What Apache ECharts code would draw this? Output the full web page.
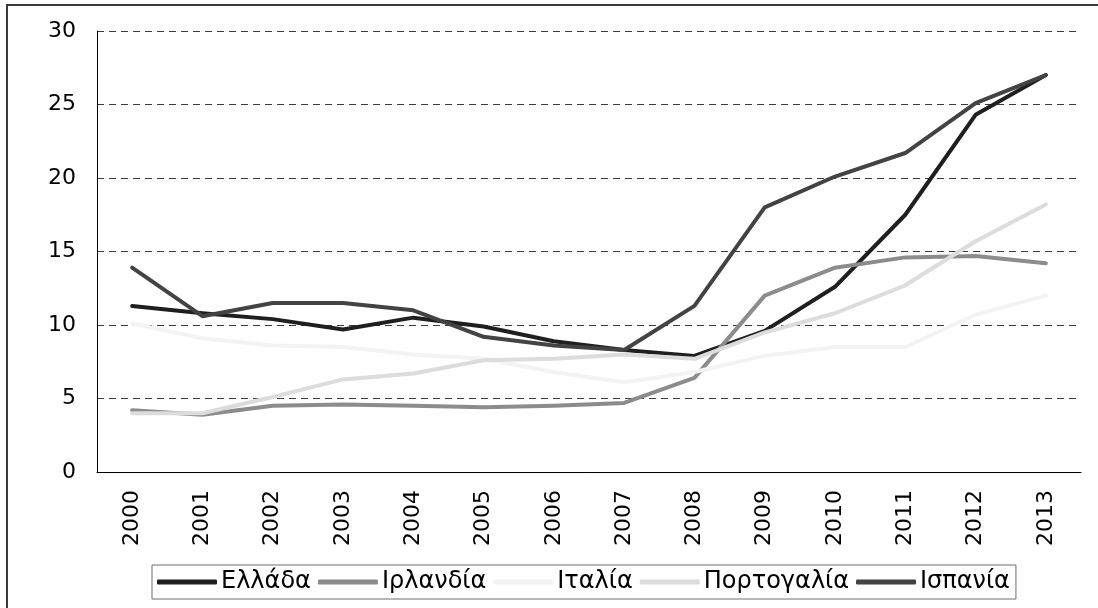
<!DOCTYPE html>
<html>
<head>
<meta charset="utf-8">
<script src="https://cdn.jsdelivr.net/npm/echarts@6/dist/echarts.min.js"></script>
<style>
  html, body { margin: 0; padding: 0; background: #fff; }
  #chart { width: 1098px; height: 608px; }
</style>
</head>
<body>
<div id="chart"></div>
<script>
// Unemployment rate (%) 2000–2013
const years = ['2000','2001','2002','2003','2004','2005','2006','2007','2008','2009','2010','2011','2012','2013'];
const greece   = [11.3, 10.8, 10.4, 9.7, 10.5, 9.9, 8.9, 8.3, 7.9, 9.6, 12.6, 17.5, 24.3, 27.0];
const ireland  = [4.2, 3.9, 4.5, 4.6, 4.5, 4.4, 4.5, 4.7, 6.4, 12.0, 13.9, 14.6, 14.7, 14.2];
const italy    = [10.1, 9.1, 8.6, 8.5, 8.0, 7.7, 6.8, 6.1, 6.8, 7.9, 8.5, 8.5, 10.7, 12.0];
const portugal = [4.0, 4.0, 5.1, 6.3, 6.7, 7.6, 7.7, 8.0, 7.7, 9.5, 10.8, 12.7, 15.7, 18.2];
const spain    = [13.9, 10.6, 11.5, 11.5, 11.0, 9.2, 8.6, 8.3, 11.3, 18.0, 20.1, 21.7, 25.1, 27.0];
const yTicks   = { min: 0, max: 30, step: 5 };

const FONT = 'DejaVu Sans';

const seriesDefs = [
  { name: 'Ελλάδα',     data: greece,   color: '#1f1f1f' },
  { name: 'Ιρλανδία',   data: ireland,  color: '#8c8c8c' },
  { name: 'Ιταλία',     data: italy,    color: '#f3f3f3' },
  { name: 'Πορτογαλία', data: portugal, color: '#dcdcdc' },
  { name: 'Ισπανία',    data: spain,    color: '#434343' }
];

const chart = echarts.init(document.getElementById('chart'), null, { renderer: 'canvas' });

chart.setOption({
  backgroundColor: '#ffffff',
  animation: false,
  textStyle: { fontFamily: FONT },
  graphic: [{
    type: 'rect',
    shape: { x: 7, y: 5, width: 1200, height: 700 },
    style: { fill: 'none', stroke: '#3a3a3a', lineWidth: 2 },
    silent: true,
    z: 100
  }],
  grid: { left: 97, right: 17, top: 31, bottom: 136, containLabel: false },
  legend: {
    left: 152,
    top: 565,
    orient: 'horizontal',
    padding: [5, 6, 5, 5],
    borderColor: '#6e6e6e',
    borderWidth: 1,
    itemWidth: 60,
    itemHeight: 5,
    itemGap: 7,
    icon: 'roundRect',
    textStyle: { fontFamily: FONT, fontSize: 24, color: '#000', padding: [0, 0, 0, -1] },
    data: seriesDefs.map(s => s.name)
  },
  xAxis: {
    type: 'category',
    data: years,
    boundaryGap: true,
    axisLine: { show: true, lineStyle: { color: '#000', width: 1 } },
    axisTick: { show: false },
    axisLabel: { rotate: 90, margin: 18, fontFamily: FONT, fontSize: 22, color: '#000' },
    splitLine: { show: false }
  },
  yAxis: {
    type: 'value',
    min: yTicks.min,
    max: yTicks.max,
    interval: yTicks.step,
    axisLine: { show: true, lineStyle: { color: '#000', width: 1 } },
    axisTick: { show: false },
    axisLabel: { margin: 21, fontFamily: FONT, fontSize: 22, color: '#000' },
    splitLine: { show: true, lineStyle: { color: '#3c3c3c', width: 1, type: [7, 5] } }
  },
  series: seriesDefs.map(s => ({
    name: s.name,
    type: 'line',
    data: s.data,
    symbol: 'none',
    showSymbol: false,
    color: s.color,
    lineStyle: { color: s.color, width: 4, cap: 'round', join: 'round' },
    itemStyle: { color: s.color }
  }))
});
</script>
</body>
</html>
